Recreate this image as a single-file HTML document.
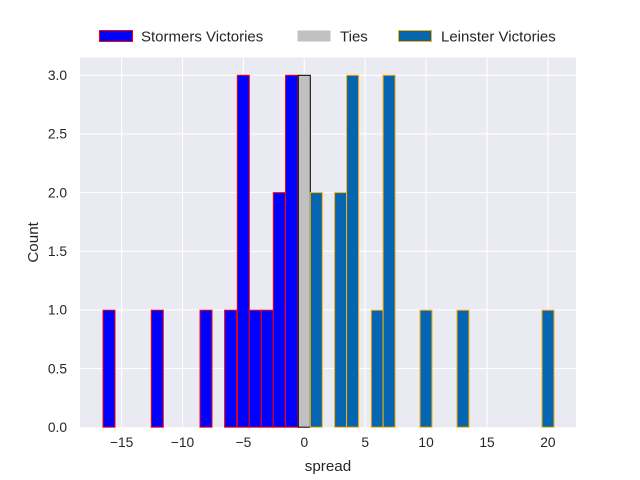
<!DOCTYPE html>
<html><head><meta charset="utf-8"><style>body{margin:0;background:#fff}svg{display:block}text{font-family:"Liberation Sans","DejaVu Sans",sans-serif;fill:#262626}</style></head><body>
<svg width="640" height="480" viewBox="0 0 640 480" xmlns="http://www.w3.org/2000/svg">
<rect x="80" y="57.6" width="496" height="369.6" fill="#eaeaf2"/>
<g stroke="#fff" stroke-width="1.1">
<line x1="121.6" x2="121.6" y1="57.6" y2="427.2"/><line x1="182.5" x2="182.5" y1="57.6" y2="427.2"/><line x1="243.4" x2="243.4" y1="57.6" y2="427.2"/><line x1="304.3" x2="304.3" y1="57.6" y2="427.2"/><line x1="365.2" x2="365.2" y1="57.6" y2="427.2"/><line x1="426.1" x2="426.1" y1="57.6" y2="427.2"/><line x1="487" x2="487" y1="57.6" y2="427.2"/><line x1="547.9" x2="547.9" y1="57.6" y2="427.2"/>
<line x1="80" x2="576" y1="368.55" y2="368.55"/><line x1="80" x2="576" y1="309.9" y2="309.9"/><line x1="80" x2="576" y1="251.25" y2="251.25"/><line x1="80" x2="576" y1="192.6" y2="192.6"/><line x1="80" x2="576" y1="133.95" y2="133.95"/><line x1="80" x2="576" y1="75.3" y2="75.3"/>
</g>
<g fill="#0000ff" stroke="#ff0000" stroke-width="1">
<rect x="103" y="310.2" width="12" height="117"/>
<rect x="151.3" y="310.2" width="12" height="117"/>
<rect x="200" y="310.2" width="12" height="117"/>
<rect x="224.6" y="310.2" width="12" height="117"/>
<rect x="237.3" y="75.3" width="12" height="351.9"/>
<rect x="249.3" y="310.2" width="12" height="117"/>
<rect x="261.3" y="310.2" width="12" height="117"/>
<rect x="273.3" y="192.6" width="12" height="234.6"/>
<rect x="285.5" y="75.3" width="12.3" height="351.9"/>
</g>
<rect x="298.3" y="75.3" width="12" height="351.9" fill="#c0c0c0" stroke="#000" stroke-width="1"/>
<g fill="#0565b0" stroke="#ffb000" stroke-width="1">
<rect x="310.3" y="192.6" width="12" height="234.6"/>
<rect x="334.6" y="192.6" width="12" height="234.6"/>
<rect x="346.6" y="75.3" width="12" height="351.9"/>
<rect x="371.3" y="310.2" width="11.8" height="117"/>
<rect x="383.1" y="75.3" width="12" height="351.9"/>
<rect x="420" y="310.2" width="12" height="117"/>
<rect x="457" y="310.2" width="12" height="117"/>
<rect x="542" y="310.2" width="12" height="117"/>
</g>
<g font-size="13.8" text-anchor="middle">
<text x="121.6" y="447">−15</text><text x="182.5" y="447">−10</text><text x="243.4" y="447">−5</text><text x="304.3" y="447">0</text><text x="365.2" y="447">5</text><text x="426.1" y="447">10</text><text x="487" y="447">15</text><text x="547.9" y="447">20</text>
</g>
<g font-size="13.8" text-anchor="end">
<text x="67" y="432">0.0</text><text x="67" y="373.3">0.5</text><text x="67" y="314.7">1.0</text><text x="67" y="256">1.5</text><text x="67" y="197.4">2.0</text><text x="67" y="138.7">2.5</text><text x="67" y="80.1">3.0</text>
</g>
<text x="328" y="471" font-size="15.2" text-anchor="middle">spread</text>
<text transform="translate(38,242.4) rotate(-90)" font-size="15.2" text-anchor="middle">Count</text>
<rect x="99.5" y="30.5" width="33" height="11" fill="#0000ff" stroke="#ff0000"/>
<text x="141" y="41.5" font-size="15">Stormers Victories</text>
<rect x="297.5" y="30.5" width="33" height="11" fill="#c0c0c0"/>
<text x="340" y="41.5" font-size="15">Ties</text>
<rect x="398.5" y="30.5" width="33" height="11" fill="#0565b0" stroke="#ffb000"/>
<text x="441" y="41.5" font-size="15">Leinster Victories</text>
</svg>
</body></html>
